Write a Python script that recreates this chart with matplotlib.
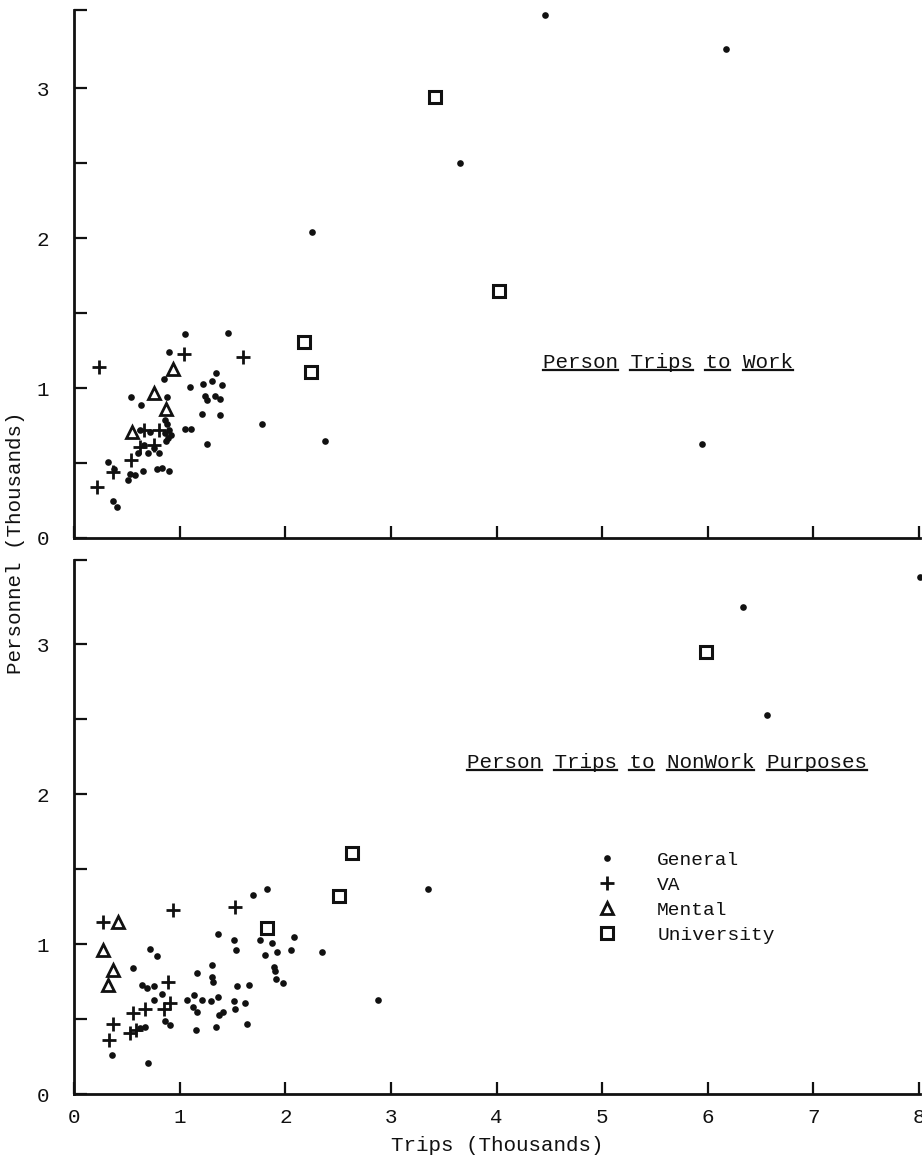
import numpy as np
import matplotlib
matplotlib.use("Agg")
import matplotlib.pyplot as plt
from matplotlib.lines import Line2D

plt.rcParams['font.family'] = ['Liberation Mono', 'DejaVu Sans']

# ---- person trips to work (thousands) ----
work_gen_x = [4.46, 6.17, 3.65, 2.25, 1.78, 2.38, 5.95,
              1.05, 1.46, 0.90, 0.85, 1.34, 1.31, 1.40, 1.22, 1.10,
              0.88, 0.54, 0.63, 1.24, 1.26, 1.33, 1.38, 1.21, 1.38,
              0.86, 0.88, 0.90, 0.86, 0.89, 0.92, 1.05, 1.11, 0.87, 1.26,
              0.61, 0.70, 0.80, 0.66, 0.76, 0.32, 0.38, 0.53, 0.58, 0.65, 0.51,
              0.79, 0.83, 0.90, 0.37, 0.41, 0.72, 0.62]
work_gen_y = [3.49, 3.26, 2.50, 2.04, 0.76, 0.65, 0.63,
              1.36, 1.37, 1.24, 1.06, 1.10, 1.05, 1.02, 1.03, 1.01,
              0.94, 0.94, 0.89, 0.95, 0.92, 0.95, 0.93, 0.83, 0.82,
              0.79, 0.76, 0.72, 0.70, 0.67, 0.69, 0.73, 0.73, 0.65, 0.63,
              0.57, 0.57, 0.57, 0.62, 0.60, 0.51, 0.46, 0.43, 0.42, 0.45, 0.39,
              0.46, 0.47, 0.45, 0.25, 0.21, 0.71, 0.72]
work_va_x = [1.04, 1.60, 0.24, 0.22, 0.54, 0.37, 0.62, 0.76, 0.80, 0.66]
work_va_y = [1.23, 1.21, 1.14, 0.34, 0.52, 0.44, 0.61, 0.62, 0.72, 0.72]
work_mental_x = [0.94, 0.76, 0.87, 0.55]
work_mental_y = [1.13, 0.97, 0.86, 0.71]
work_univ_x = [3.42, 4.02, 2.18, 2.24]
work_univ_y = [2.94, 1.65, 1.31, 1.11]

# ---- person trips to nonwork purposes (thousands) ----
nonwork_gen_x = [8.01, 6.33, 6.56, 3.35, 2.35, 2.88,
                 1.69, 1.83, 1.76, 1.87, 1.92, 1.81, 2.08, 2.05, 1.89, 1.90, 1.91, 1.98,
                 1.36, 1.51, 1.53, 0.72, 0.79, 0.56, 1.16, 1.31, 1.31, 1.32,
                 0.64, 0.69, 0.76, 1.54, 1.66, 0.83, 0.76,
                 1.07, 1.14, 1.21, 1.30, 1.36, 1.51, 1.62,
                 1.13, 1.16, 1.41, 1.37, 1.52, 0.67, 0.62,
                 0.86, 0.91, 1.15, 1.34, 1.64, 0.36, 0.70]
nonwork_gen_y = [3.45, 3.25, 2.53, 1.37, 0.95, 0.63,
                 1.33, 1.37, 1.03, 1.01, 0.95, 0.93, 1.05, 0.96, 0.85, 0.82, 0.77, 0.74,
                 1.07, 1.03, 0.96, 0.97, 0.92, 0.84, 0.81, 0.86, 0.78, 0.75,
                 0.73, 0.71, 0.72, 0.72, 0.73, 0.67, 0.63,
                 0.63, 0.66, 0.63, 0.62, 0.65, 0.62, 0.61,
                 0.58, 0.55, 0.55, 0.53, 0.57, 0.45, 0.44,
                 0.49, 0.46, 0.43, 0.45, 0.47, 0.26, 0.21]
nonwork_va_x = [0.27, 0.94, 1.52, 0.89, 0.91, 0.67, 0.85, 0.56, 0.53, 0.59, 0.37, 0.33]
nonwork_va_y = [1.15, 1.23, 1.25, 0.75, 0.61, 0.57, 0.57, 0.54, 0.41, 0.43, 0.47, 0.36]
nonwork_mental_x = [0.42, 0.27, 0.37, 0.32]
nonwork_mental_y = [1.15, 0.96, 0.83, 0.73]
nonwork_univ_x = [5.98, 2.63, 2.51, 1.83]
nonwork_univ_y = [2.95, 1.61, 1.32, 1.11]

x_ticks = [0, 1, 2, 3, 4, 5, 6, 7, 8]
ink = '#111111'
fs = 15


def draw_groups(ax, gx, gy, vx, vy, mx, my, ux, uy):
    ax.plot(gx, gy, 'o', ms=4.8, color=ink, mew=0, clip_on=False, label='General')
    ax.plot(vx, vy, '+', ms=10, mew=2.0, color=ink, label='VA')
    ax.plot(mx, my, '^', ms=9, mew=2.0, mfc='none', mec=ink, label='Mental')
    ax.plot(ux, uy, 's', ms=8, mew=2.2, mfc='none', mec=ink, label='University')


def style_axes(ax, ytop, show_xlabels):
    ax.set_xlim(0, 8.01)
    ax.set_ylim(0, ytop)
    for s in ['top', 'right']:
        ax.spines[s].set_visible(False)
    for s in ['left', 'bottom']:
        ax.spines[s].set_linewidth(2.0)
        ax.spines[s].set_color(ink)
    yt = [0, 0.5, 1, 1.5, 2, 2.5, 3, ytop]
    ylab = ['0', '', '1', '', '2', '', '3', '']
    ax.set_yticks(yt, ylab)
    ax.set_xticks(x_ticks, [str(v) for v in x_ticks] if show_xlabels else [''] * len(x_ticks))
    ax.tick_params(axis='y', direction='in', length=9, width=1.6, color=ink, pad=18,
                   labelsize=fs, labelcolor=ink)
    ax.tick_params(axis='x', direction='in', length=9, width=1.6, color=ink, pad=10,
                   labelsize=fs, labelcolor=ink)


def underlined(fig, ax, x, y, s):
    t = ax.text(x, y, s, fontsize=fs, color=ink, va='center', ha='left')
    fig.canvas.draw()
    bb = t.get_window_extent()
    cw = bb.width / len(s)
    pos = 0
    for word in s.split(' '):
        x0 = bb.x0 + pos * cw
        x1 = x0 + len(word) * cw
        yy = bb.y0 + 2
        fx0, fy = fig.transFigure.inverted().transform((x0, yy))
        fx1, _ = fig.transFigure.inverted().transform((x1, yy))
        fig.add_artist(Line2D([fx0, fx1], [fy, fy], color=ink, lw=1.6))
        pos += len(word) + 1


fig = plt.figure(figsize=(9.22, 11.55), dpi=100)
ax1 = fig.add_axes([0.0803, 0.5342, 0.9176, 0.4571])
ax2 = fig.add_axes([0.0803, 0.0528, 0.9176, 0.4623])

draw_groups(ax1, work_gen_x, work_gen_y, work_va_x, work_va_y,
            work_mental_x, work_mental_y, work_univ_x, work_univ_y)
draw_groups(ax2, nonwork_gen_x, nonwork_gen_y, nonwork_va_x, nonwork_va_y,
            nonwork_mental_x, nonwork_mental_y, nonwork_univ_x, nonwork_univ_y)

style_axes(ax1, 3.52, False)
style_axes(ax2, 3.56, True)

xl = ax2.set_xlabel('Trips (Thousands)', fontsize=fs, color=ink, va='center')
ax2.xaxis.set_label_coords(0.5, -0.096)
fig.text(0.017, 0.53, 'Personnel (Thousands)', rotation=90, fontsize=fs,
         color=ink, ha='center', va='center')

leg = ax2.legend(loc='upper left', bbox_to_anchor=(0.595, 0.487), frameon=False,
                 fontsize=14, handlelength=1.2, handletextpad=2.0, labelspacing=0.38)
for txt in leg.get_texts():
    txt.set_color(ink)

underlined(fig, ax1, 4.44, 1.17, 'Person Trips to Work')
underlined(fig, ax2, 3.72, 2.21, 'Person Trips to NonWork Purposes')

fig.savefig('out.png', dpi=100, facecolor='white')
